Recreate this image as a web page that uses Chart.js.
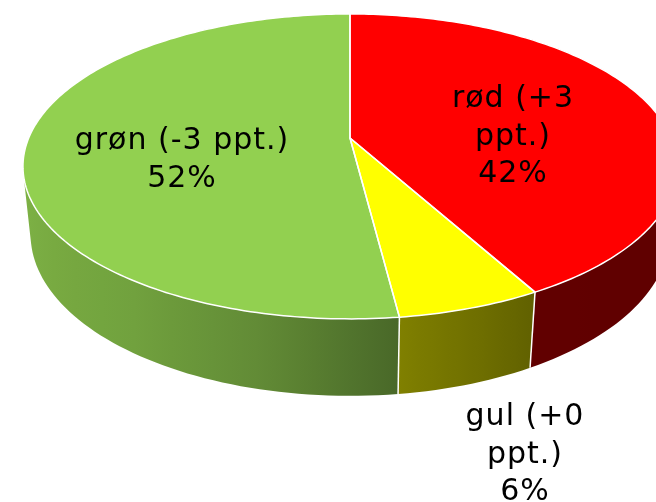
<!DOCTYPE html>
<html><head><meta charset="utf-8">
<script src="https://cdn.jsdelivr.net/npm/chart.js@4/dist/chart.umd.min.js"></script>
<style>html,body{margin:0;padding:0;background:#fff;overflow:hidden}#wrap{width:656px;height:502px}</style>
</head><body><div id="wrap"><canvas id="c" width="656" height="502"></canvas></div>
<script>
// ---- data ----
const categories = ['rød', 'gul', 'grøn'];
const changes = ['+3', '+0', '-3'];
const shares = [42, 6, 52];
const topColors = ['#FF0000', '#FFFF00', '#92D050'];
const baseRGB = [[255,0,0],[255,255,0],[146,208,80]];

// ---- 3D view (perspective projection of a unit disk) ----
const VIEW = {cx:350, cy:138, F:321.3, sinA:0.458, cosA:0.889, k:0.2098, h:0.24};
function proj(x, z, Y){
  const d = z*VIEW.cosA + Y*VIEW.sinA;
  const v = z*VIEW.sinA - Y*VIEW.cosA;
  const w = 1 - VIEW.k*d;
  return [VIEW.cx + VIEW.F*x/w, VIEW.cy + VIEW.F*v/w];
}
function rim(t, Y){ return proj(Math.cos(t), Math.sin(t), Y); }
const SHADE = [[0,0.37],[1.07,0.38],[1.445,0.5],[1.83,0.68],[2.2,0.78],[2.9,0.86],[Math.PI,0.86]];
function shade(t){
  for(let i=1;i<SHADE.length;i++){
    if(t<=SHADE[i][0]){const [t0,f0]=SHADE[i-1],[t1,f1]=SHADE[i];return f0+(f1-f0)*(t-t0)/(t1-t0);}
  }
  return SHADE[SHADE.length-1][1];
}
function rgb(c,f){return 'rgb('+c.map(v=>Math.round(v*f)).join(',')+')';}

const labelLayout = [
  {x:513, y:107, maxW:140},
  {x:525, y:425, maxW:140},
  {x:182, y:149, maxW:260}
];
const LINE_H = 37.5;

const pie3d = {
  id:'pie3d',
  beforeDatasetsDraw(chart){
    const ctx = chart.ctx;
    const arcs = chart.getDatasetMeta(0).data;
    const tmin = Math.asin(VIEW.k/VIEW.cosA), tmax = Math.PI - tmin;
    const N = 120;
    ctx.save();
    // walls
    const edges = [];
    arcs.forEach((arc,i)=>{
      let a0 = arc.startAngle, a1 = arc.endAngle;
      // normalise into range around [0, 2pi)
      const lo = Math.max(a0, tmin), hi = Math.min(a1, tmax);
      if (hi <= lo) return;
      const n = Math.max(4, Math.ceil((hi-lo)/(Math.PI)*N));
      ctx.beginPath();
      for(let j=0;j<=n;j++){const t=lo+(hi-lo)*j/n;const p=rim(t,0);j?ctx.lineTo(p[0],p[1]):ctx.moveTo(p[0],p[1]);}
      for(let j=n;j>=0;j--){const t=lo+(hi-lo)*j/n;const p=rim(t,-VIEW.h);ctx.lineTo(p[0],p[1]);}
      ctx.closePath();
      const xl = rim(hi,0)[0], xr = rim(lo,0)[0];
      const g = ctx.createLinearGradient(xl,0,xr,0);
      for(let j=0;j<=12;j++){
        const t = hi-(hi-lo)*j/12; const x = rim(t,0)[0];
        g.addColorStop(Math.min(1,Math.max(0,(x-xl)/(xr-xl))), rgb(baseRGB[i], shade(t)));
      }
      ctx.fillStyle = g; ctx.fill();
      if (a0>tmin && a0<tmax) edges.push(a0);
    });
    ctx.strokeStyle='#fff'; ctx.lineWidth=1.5;
    edges.forEach(t=>{const p=rim(t,0),q=rim(t,-VIEW.h);ctx.beginPath();ctx.moveTo(p[0],p[1]);ctx.lineTo(q[0],q[1]);ctx.stroke();});
    // top faces
    const apex = proj(0,0,0);
    arcs.forEach((arc,i)=>{
      const a0 = arc.startAngle, a1 = arc.endAngle;
      const n = Math.max(4, Math.ceil((a1-a0)/(2*Math.PI)*360));
      ctx.beginPath(); ctx.moveTo(apex[0],apex[1]);
      for(let j=0;j<=n;j++){const t=a0+(a1-a0)*j/n;const p=rim(t,0);ctx.lineTo(p[0],p[1]);}
      ctx.closePath();
      ctx.fillStyle = arc.options.backgroundColor; ctx.fill();
    });
    arcs.forEach((arc)=>{
      const a0 = arc.startAngle, a1 = arc.endAngle;
      const n = Math.max(4, Math.ceil((a1-a0)/(2*Math.PI)*360));
      ctx.beginPath(); ctx.moveTo(apex[0],apex[1]);
      for(let j=0;j<=n;j++){const t=a0+(a1-a0)*j/n;const p=rim(t,0);ctx.lineTo(p[0],p[1]);}
      ctx.closePath();
      ctx.strokeStyle = arc.options.borderColor; ctx.lineWidth = 1.5; ctx.lineJoin='round'; ctx.stroke();
    });
    ctx.restore();
    return false;
  },
  afterDraw(chart){
    const ctx = chart.ctx;
    const data = chart.data.datasets[0].data;
    const total = data.reduce((a,b)=>a+b,0);
    ctx.save();
    ctx.font = '30px "DejaVu Sans"';
    if ('letterSpacing' in ctx) ctx.letterSpacing = '1px';
    ctx.fillStyle = '#000'; ctx.textAlign='center'; ctx.textBaseline='alphabetic';
    data.forEach((v,i)=>{
      const L = labelLayout[i];
      const words = (chart.data.labels[i] + ' (' + changes[i] + ' ppt.)').split(' ');
      const lines = []; let cur = '';
      words.forEach(w=>{const tryS = cur? cur+' '+w : w; if (cur && ctx.measureText(tryS).width > L.maxW){lines.push(cur);cur=w;} else cur=tryS;});
      lines.push(cur);
      lines.push(Math.round(v/total*100)+'%');
      lines.forEach((s,j)=>ctx.fillText(s, L.x, L.y + j*LINE_H));
    });
    ctx.restore();
  }
};

new Chart(document.getElementById('c'), {
  type:'pie',
  data:{labels:categories, datasets:[{data:shares, backgroundColor:topColors, borderColor:'#ffffff', borderWidth:1.5}]},
  options:{responsive:false, animation:false, layout:{padding:0},
    plugins:{legend:{display:false}, tooltip:{enabled:false}}},
  plugins:[pie3d]
});
</script></body></html>
